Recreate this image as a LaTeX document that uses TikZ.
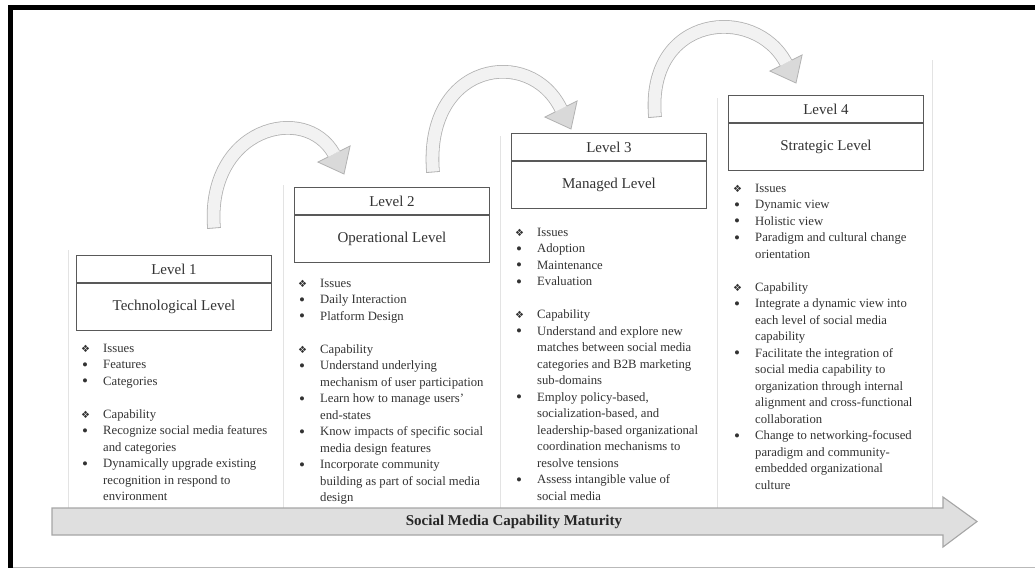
\documentclass[tikz,border=0pt]{standalone}
\usepackage{fontspec}
\setmainfont{Liberation Serif}
\newfontfamily\symfont{DejaVu Sans}
\usetikzlibrary{calc}
% list markers hanging to the left of the text column
\newcommand\dia{\llap{\makebox[22pt][l]{\symfont\fontsize{10}{10}\selectfont ❖}}}
\newcommand\bul{\llap{\makebox[21pt][l]{\raisebox{-1.6pt}{\fontsize{17}{17}\selectfont •}}}}

\begin{document}
\begin{tikzpicture}[x=1pt,y=-1pt,
  lvtop/.style={draw=black!65, line width=1pt, minimum width=195pt, minimum height=27pt,
    inner sep=0pt, font=\fontsize{15}{15}\selectfont, text=black!80},
  lvbot/.style={draw=black!65, line width=1pt, minimum width=195pt, minimum height=47pt,
    inner sep=0pt, font=\fontsize{15}{15}\selectfont, text=black!80},
  listtext/.style={anchor=north west, inner sep=0pt, align=left,
    font=\fontsize{12.7}{16.5}\selectfont, text=black!80},
  colline/.style={draw=gray!22, line width=0.9pt},
  shaft/.style={draw=gray!60, line width=0.8pt, double=gray!10, double distance=12pt},
  headtip/.style={fill=gray!30, draw=gray!60, line width=0.8pt, line join=miter}]

\useasboundingbox (0,0) rectangle (1035,568);
\fill[white] (0,0) rectangle (1035,568);

% outer frame
\fill[black] (8,5) rectangle (1035,10);
\fill[black] (8,5) rectangle (13,568);
\draw[gray!55, line width=1pt] (13,567) -- (1035,567);

% column separators
\draw[colline] (68,250) -- (68,508);
\draw[colline] (283,185) -- (283,508);
\draw[colline] (500,136) -- (500,508);
\draw[colline] (717,98) -- (717,508);
\draw[colline] (932,60) -- (932,508);

% level headers
\node[lvtop, anchor=north west] (h1) at (76,255) {Level 1};
\node[lvbot, anchor=north] (b1) at (h1.south) {Technological Level};
\node[lvtop, anchor=north west] (h2) at (294,187) {Level 2};
\node[lvbot, anchor=north] (b2) at (h2.south) {Operational Level};
\node[lvtop, anchor=north west] (h3) at (511,133) {Level 3};
\node[lvbot, anchor=north] (b3) at (h3.south) {Managed Level};
\node[lvtop, anchor=north west] (h4) at (728,95) {Level 4};
\node[lvbot, anchor=north] (b4) at (h4.south) {Strategic Level};

% issue and capability lists
\node[listtext] (t1) at (103,343.5) {%
\dia Issues\\
\bul Features\\
\bul Categories\\[16.5pt]
\dia Capability\\
\bul Recognize social media features\\
and categories\\
\bul Dynamically upgrade existing\\
recognition in respond to\\
environment};

\node[listtext] (t2) at (320,278.5) {%
\dia Issues\\
\bul Daily Interaction\\
\bul Platform Design\\[16.5pt]
\dia Capability\\
\bul Understand underlying\\
mechanism of user participation\\
\bul Learn how to manage users'\\
end-states\\
\bul Know impacts of specific social\\
media design features\\
\bul Incorporate community\\
building as part of social media\\
design};

\node[listtext] (t3) at (537,227.5) {%
\dia Issues\\
\bul Adoption\\
\bul Maintenance\\
\bul Evaluation\\[16.5pt]
\dia Capability\\
\bul Understand and explore new\\
matches between social media\\
categories and B2B marketing\\
sub-domains\\
\bul Employ policy-based,\\
socialization-based, and\\
leadership-based organizational\\
coordination mechanisms to\\
resolve tensions\\
\bul Assess intangible value of\\
social media};

\node[listtext] (t4) at (755,183.5) {%
\dia Issues\\
\bul Dynamic view\\
\bul Holistic view\\
\bul Paradigm and cultural change\\
orientation\\[16.5pt]
\dia Capability\\
\bul Integrate a dynamic view into\\
each level of social media\\
capability\\
\bul Facilitate the integration of\\
social media capability to\\
organization through internal\\
alignment and cross-functional\\
collaboration\\
\bul Change to networking-focused\\
paradigm and community-\\
embedded organizational\\
culture};

% curved step arrows between levels
\coordinate (a1s) at (214,228); \coordinate (a1c) at (206,128);
\coordinate (a1d) at (305,102); \coordinate (a1b) at (334,154);
\coordinate (a1t) at (344,174);
\coordinate (a2s) at (433,172); \coordinate (a2c) at (424,62);
\coordinate (a2d) at (530,45);  \coordinate (a2b) at (561,109);
\coordinate (a2t) at (571,129);
\coordinate (a3s) at (655,117); \coordinate (a3c) at (646,14);
\coordinate (a3d) at (755,4);   \coordinate (a3b) at (786,63);
\coordinate (a3t) at (796,83);
\foreach \k in {1,2,3}{
  \draw[shaft] (a\k s) .. controls (a\k c) and (a\k d) .. (a\k b);
  \draw[draw=gray!60, line width=0.8pt]
    ($(a\k s)!6.8pt!90:(a\k c)$) -- ($(a\k s)!6.8pt!-90:(a\k c)$);
  \filldraw[headtip] ($(a\k b)!6.4pt!90:(a\k t)$) -- ($(a\k b)!18pt!90:(a\k t)$)
    -- (a\k t) -- ($(a\k b)!18pt!-90:(a\k t)$) -- ($(a\k b)!6.4pt!-90:(a\k t)$);
}

% maturity arrow along the bottom
\draw[fill=gray!25, draw=gray!70, line width=1.1pt, line join=miter]
  (52,508) -- (943,508) -- (943,497) -- (977,521.5) -- (943,547)
  -- (943,535) -- (52,535) -- cycle;
\node[font=\bfseries\fontsize{15}{15}\selectfont, text=black!85, inner sep=0pt]
  (mat) at (514,521.5) {Social Media Capability Maturity};

\end{tikzpicture}
\end{document}
